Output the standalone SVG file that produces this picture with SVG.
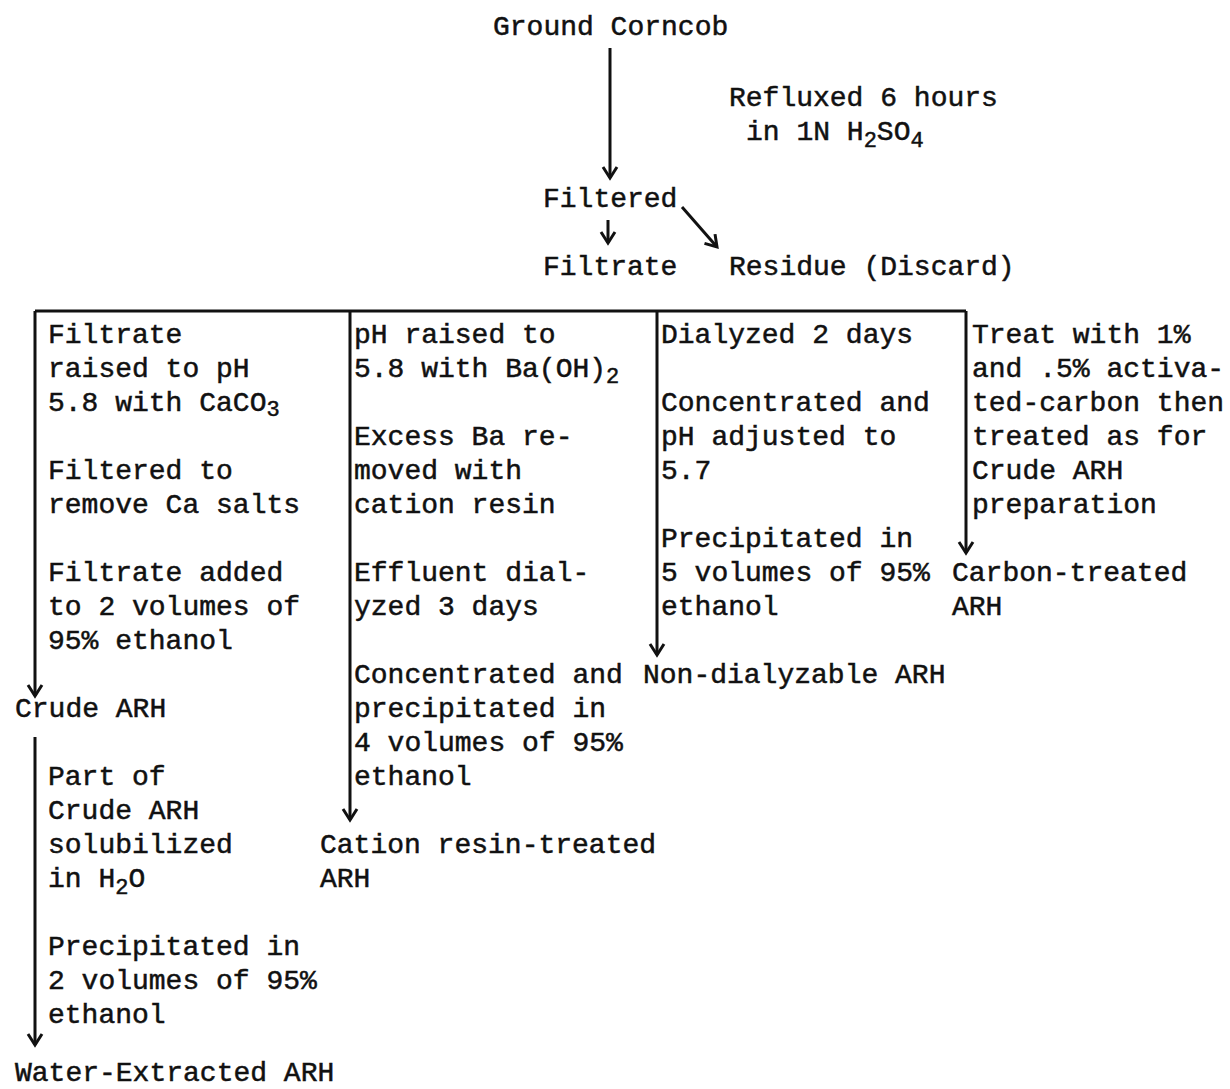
<svg xmlns="http://www.w3.org/2000/svg" width="1230" height="1089" viewBox="0 0 1230 1089">
<style>
text{font-family:"Liberation Mono","DejaVu Sans Mono",monospace;font-size:28px;fill:#111;stroke:#111;stroke-width:0.5}
.sub{font-size:22px}
.ln{stroke:#111;stroke-width:3;fill:none}
</style>
<defs>
<marker id="ah" markerUnits="userSpaceOnUse" markerWidth="20" markerHeight="20" refX="14" refY="10" orient="auto">
<path d="M3,3 L14,10 L3,17" stroke="#111" stroke-width="3" fill="none"/>
</marker>
</defs>
<rect width="1230" height="1089" fill="#fff"/>
<g id="connectors">
<line class="ln" x1="610" y1="48" x2="610" y2="178" marker-end="url(#ah)"/>
<line class="ln" x1="608" y1="220" x2="608" y2="243" marker-end="url(#ah)"/>
<line class="ln" x1="682" y1="207" x2="717" y2="247" marker-end="url(#ah)"/>
<line class="ln" x1="35" y1="311" x2="966" y2="311"/>
<line class="ln" x1="35" y1="311" x2="35" y2="696" marker-end="url(#ah)"/>
<line class="ln" x1="350" y1="311" x2="350" y2="820" marker-end="url(#ah)"/>
<line class="ln" x1="657" y1="311" x2="657" y2="655" marker-end="url(#ah)"/>
<line class="ln" x1="966" y1="311" x2="966" y2="553" marker-end="url(#ah)"/>
<line class="ln" x1="35" y1="737" x2="35" y2="1045" marker-end="url(#ah)"/>
</g>
<g id="ground-corncob"><text x="493" y="35">Ground Corncob</text></g>
<g id="reflux-label">
<text x="729" y="106">Refluxed 6 hours</text>
<text x="746" y="140">in 1N H<tspan class="sub" dy="7">2</tspan><tspan dy="-7">SO</tspan><tspan class="sub" dy="7">4</tspan></text>
</g>
<g id="filtered"><text x="543" y="207">Filtered</text></g>
<g id="filtrate"><text x="543" y="275">Filtrate</text></g>
<g id="residue"><text x="729" y="275">Residue (Discard)</text></g>
<g id="col1-steps">
<text x="48" y="343">Filtrate</text>
<text x="48" y="377">raised to pH</text>
<text x="48" y="411">5.8 with CaCO<tspan class="sub" dy="5">3</tspan></text>
<text x="48" y="479">Filtered to</text>
<text x="48" y="513">remove Ca salts</text>
<text x="48" y="581">Filtrate added</text>
<text x="48" y="615">to 2 volumes of</text>
<text x="48" y="649">95% ethanol</text>
</g>
<g id="crude-arh"><text x="15" y="717">Crude ARH</text></g>
<g id="col1b-steps">
<text x="48" y="785">Part of</text>
<text x="48" y="819">Crude ARH</text>
<text x="48" y="853">solubilized</text>
<text x="48" y="887">in H<tspan class="sub" dy="7">2</tspan><tspan dy="-7">O</tspan></text>
<text x="48" y="955">Precipitated in</text>
<text x="48" y="989">2 volumes of 95%</text>
<text x="48" y="1023">ethanol</text>
</g>
<g id="water-extracted-arh"><text x="15" y="1081">Water-Extracted ARH</text></g>
<g id="col2-steps">
<text x="354" y="343">pH raised to</text>
<text x="354" y="377">5.8 with Ba(OH)<tspan class="sub" dy="6">2</tspan></text>
<text x="354" y="445">Excess Ba re-</text>
<text x="354" y="479">moved with</text>
<text x="354" y="513">cation resin</text>
<text x="354" y="581">Effluent dial-</text>
<text x="354" y="615">yzed 3 days</text>
<text x="354" y="683">Concentrated and</text>
<text x="354" y="717">precipitated in</text>
<text x="354" y="751">4 volumes of 95%</text>
<text x="354" y="785">ethanol</text>
</g>
<g id="cation-resin-arh">
<text x="320" y="853">Cation resin-treated</text>
<text x="320" y="887">ARH</text>
</g>
<g id="col3-steps">
<text x="661" y="343">Dialyzed 2 days</text>
<text x="661" y="411">Concentrated and</text>
<text x="661" y="445">pH adjusted to</text>
<text x="661" y="479">5.7</text>
<text x="661" y="547">Precipitated in</text>
<text x="661" y="581">5 volumes of 95%</text>
<text x="661" y="615">ethanol</text>
</g>
<g id="non-dialyzable-arh"><text x="643" y="683">Non-dialyzable ARH</text></g>
<g id="col4-steps">
<text x="972" y="343">Treat with 1%</text>
<text x="972" y="377">and .5% activa-</text>
<text x="972" y="411">ted-carbon then</text>
<text x="972" y="445">treated as for</text>
<text x="972" y="479">Crude ARH</text>
<text x="972" y="513">preparation</text>
</g>
<g id="carbon-treated-arh">
<text x="952" y="581">Carbon-treated</text>
<text x="952" y="615">ARH</text>
</g>
</svg>
